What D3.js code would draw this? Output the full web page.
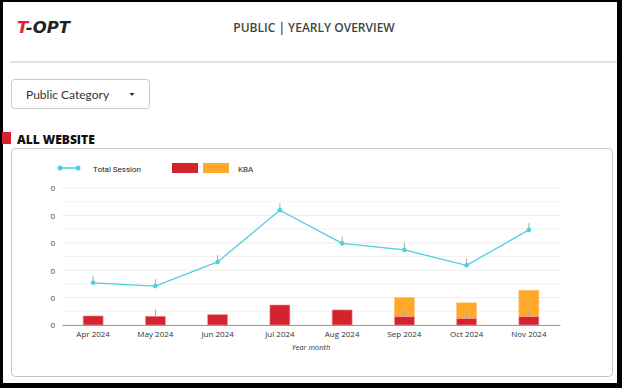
<!DOCTYPE html>
<html>
<head>
<meta charset="utf-8">
<script src="https://cdn.jsdelivr.net/npm/d3@7"></script>
<style>
  body { margin: 0; background: #000; }
  svg { display: block; }
</style>
</head>
<body>
<svg id="chart" width="622" height="388"></svg>
<script>
// data
const months = ["Apr 2024", "May 2024", "Jun 2024", "Jul 2024", "Aug 2024", "Sep 2024", "Oct 2024", "Nov 2024"];
const totalSession = [15.4, 14.2, 23.0, 41.9, 29.8, 27.4, 21.8, 34.7];
const kbaRed = [3.3, 3.2, 3.8, 7.3, 5.5, 3.0, 2.3, 3.0];
const kbaOrange = [0, 0, 0, 0, 0, 7.1, 5.8, 9.7];
const sessionErr = [2.5, 2.5, 2.5, 2.5, 2.5, 2.5, 2.5, 2.5];
const barErr = [0, 2.5, 0, 0, 0, 2.5, 2.2, 2.5];
const yTicks = [0, 10, 20, 30, 40, 50];
const yTickLabels = ["0", "0", "0", "0", "0", "0"];

const red = "#d2232f", orange = "#ffa82a", cyan = "#4cd0e2";
const svg = d3.select("#chart");

// frame
svg.append("rect").attr("width", 622).attr("height", 388).attr("fill", "#000");
svg.append("rect").attr("x", 3).attr("y", 2).attr("width", 614).attr("height", 381).attr("fill", "#fff");

// header
const logo = svg.append("text").attr("x", 17).attr("y", 33)
  .attr("font-family", "DejaVu Sans").attr("font-weight", "bold").attr("font-style", "italic")
  .attr("font-size", 15).attr("textLength", 53).attr("lengthAdjust", "spacingAndGlyphs");
logo.append("tspan").attr("fill", "#e3202c").text("T");
logo.append("tspan").attr("fill", "#222").text("-OPT");

svg.append("text").attr("x", 314).attr("y", 32).attr("text-anchor", "middle")
  .attr("font-family", "Open Sans").attr("font-weight", 600).attr("font-size", 12)
  .attr("fill", "#444").text("PUBLIC | YEARLY OVERVIEW");

svg.append("line").attr("x1", 10).attr("x2", 617).attr("y1", 62).attr("y2", 62)
  .attr("stroke", "#c8c8c8").attr("stroke-width", 1);

// dropdown
svg.append("rect").attr("x", 11.5).attr("y", 79.5).attr("width", 138).attr("height", 29).attr("rx", 3)
  .attr("fill", "#fff").attr("stroke", "#c9c9c9");
svg.append("text").attr("x", 26).attr("y", 98.5).attr("font-family", "Lato").attr("font-size", 12)
  .attr("fill", "#333").text("Public Category");
svg.append("path").attr("d", "M129.5,93 L134.5,93 L132,96 Z").attr("fill", "#333");

// section title
svg.append("rect").attr("x", 2).attr("y", 132).attr("width", 9).attr("height", 12).attr("fill", red);
svg.append("text").attr("x", 17).attr("y", 143.5).attr("font-family", "Open Sans").attr("font-weight", 800)
  .attr("font-size", 12).attr("fill", "#111").text("ALL WEBSITE");

// chart card
svg.append("rect").attr("x", 11.5).attr("y", 148.5).attr("width", 601).attr("height", 228).attr("rx", 4)
  .attr("fill", "#fff").attr("stroke", "#c6c6c6");

// legend
const lg = svg.append("g").attr("font-family", "Roboto").attr("font-size", 8).attr("fill", "#222");
lg.append("line").attr("x1", 60).attr("x2", 78).attr("y1", 168).attr("y2", 168).attr("stroke", cyan).attr("stroke-width", 1.5);
lg.selectAll("circle.lg").data([60, 78]).join("circle").attr("cx", d => d).attr("cy", 168).attr("r", 2.5).attr("fill", cyan);
lg.append("text").attr("x", 93).attr("y", 171.5).text("Total Session");
lg.append("rect").attr("x", 172).attr("y", 163).attr("width", 26).attr("height", 10).attr("fill", red);
lg.append("rect").attr("x", 203).attr("y", 163).attr("width", 26).attr("height", 10).attr("fill", orange);
lg.append("text").attr("x", 238).attr("y", 171.5).text("KBA");

// scales
const x = d3.scaleBand().domain(months).range([62, 560]);
const y = d3.scaleLinear().domain([0, 50]).range([325, 188]);

// grid
const g = svg.append("g");
g.selectAll("line.grid").data(d3.range(0, 51, 5)).join("line")
  .attr("x1", 62).attr("x2", 560).attr("y1", d => y(d)).attr("y2", d => y(d))
  .attr("stroke", d => d % 10 === 0 ? "#ececec" : "#f3f3f3").attr("stroke-width", 1);

// y axis
const yAxis = d3.axisLeft(y).tickValues(yTicks).tickSize(0).tickPadding(0)
  .tickFormat((d, i) => yTickLabels[i]);
svg.append("g").attr("transform", "translate(55,0)").call(yAxis)
  .call(a => a.select(".domain").remove())
  .call(a => a.selectAll("text").attr("font-family", "Open Sans").attr("font-size", 8).attr("fill", "#444").attr("dy", "0.35em"));

// bars
const bw = 20;
svg.append("g").selectAll("rect").data(months).join("rect")
  .attr("x", d => x(d) + x.bandwidth() / 2 - bw / 2).attr("width", bw)
  .attr("y", (d, i) => y(kbaRed[i] + kbaOrange[i])).attr("height", (d, i) => y(kbaRed[i]) - y(kbaRed[i] + kbaOrange[i]))
  .attr("fill", orange).attr("stroke", "#ffc37a").attr("stroke-width", 0.6);
svg.append("g").selectAll("rect").data(months).join("rect")
  .attr("x", d => x(d) + x.bandwidth() / 2 - bw / 2).attr("width", bw)
  .attr("y", (d, i) => y(kbaRed[i])).attr("height", (d, i) => y(0) - y(kbaRed[i]))
  .attr("fill", red).attr("stroke", "#f29aa0").attr("stroke-width", 0.6);

// bar error ticks
svg.append("g").selectAll("line").data(months.filter((d, i) => barErr[i] > 0)).join("line")
  .attr("x1", d => x(d) + x.bandwidth() / 2).attr("x2", d => x(d) + x.bandwidth() / 2)
  .attr("y1", d => y(kbaRed[months.indexOf(d)])).attr("y2", d => { const i = months.indexOf(d); return y(kbaRed[i] + barErr[i]); })
  .attr("stroke", "#a8a8a8").attr("stroke-width", 1);

// x axis
const xAxis = d3.axisBottom(x).tickSize(0).tickPadding(6);
svg.append("g").attr("transform", "translate(0,325)").call(xAxis)
  .call(a => a.select(".domain").attr("stroke", "#9a9a9a"))
  .call(a => a.selectAll("text").attr("font-family", "Open Sans").attr("font-size", 8).attr("fill", "#333"));
svg.append("text").attr("x", 311).attr("y", 350).attr("text-anchor", "middle")
  .attr("font-family", "Open Sans").attr("font-style", "italic").attr("font-size", 7.5).attr("fill", "#333").text("Year month");

// line
const cx = d => x(d) + x.bandwidth() / 2;
svg.append("g").selectAll("line").data(months).join("line")
  .attr("x1", cx).attr("x2", cx)
  .attr("y1", (d, i) => y(totalSession[i])).attr("y2", (d, i) => y(totalSession[i] + sessionErr[i]))
  .attr("stroke", "#a8a8a8").attr("stroke-width", 1);
svg.append("path").datum(months)
  .attr("d", d3.line().x(cx).y((d, i) => y(totalSession[i])))
  .attr("fill", "none").attr("stroke", cyan).attr("stroke-width", 1.3);
svg.append("g").selectAll("circle").data(months).join("circle")
  .attr("cx", cx).attr("cy", (d, i) => y(totalSession[i])).attr("r", 2.3).attr("fill", cyan);
</script>
</body>
</html>
